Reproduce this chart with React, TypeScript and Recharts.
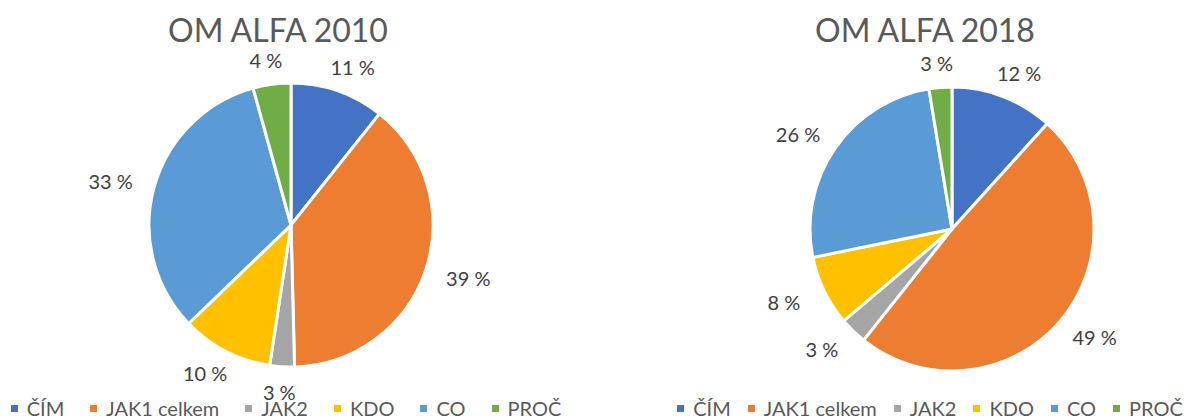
import React from 'react';
import { PieChart, Pie, Cell, Legend } from 'recharts';

const categories = ['ČÍM', 'JAK1 celkem', 'JAK2', 'KDO', 'CO', 'PROČ'];
const values2010 = [10.7, 38.9, 2.8, 10.4, 32.9, 4.3];
const values2018 = [11.7, 49.0, 3.1, 8.0, 25.6, 2.6];
const titles = ['OM ALFA 2010', 'OM ALFA 2018'];
const colors = ['#4472C4', '#ED7D31', '#A5A5A5', '#FFC000', '#5B9BD5', '#70AD47'];

const FONT = 'Lato, "Open Sans", sans-serif';
const RADIAN = Math.PI / 180;

const makeData = (vals: number[]) => categories.map((name, i) => ({ name, value: vals[i] }));

const renderLabel = (props: any) => {
  const { cx, cy, midAngle, outerRadius, value } = props;
  const rx = outerRadius + 45;
  const ry = outerRadius + 25;
  const x = cx + rx * Math.cos(-midAngle * RADIAN);
  const y = cy + ry * Math.sin(-midAngle * RADIAN);
  return (
    <text x={x} y={y} fill="#404040" fontSize={20} fontFamily={FONT} textAnchor="middle" dominantBaseline="central">
      {`${Math.round(value)} %`}
    </text>
  );
};

const makeLegend = (gap: number) => () => (
  <div style={{ display: 'flex', justifyContent: 'center', alignItems: 'center', fontFamily: FONT, fontSize: 20, lineHeight: '22px', color: '#595959', whiteSpace: 'nowrap' }}>
    {categories.map((c, i) => (
      <div key={c} style={{ display: 'flex', alignItems: 'center', marginRight: i < categories.length - 1 ? gap : 0 }}>
        <div style={{ width: 7, height: 7, background: colors[i], marginRight: 9 }} />
        <span>{c}</span>
      </div>
    ))}
  </div>
);

const OnePie = ({ vals, title, left, width, cx, cy, titleX, legendWidth, gap }: any) => {
  const LegendContent = makeLegend(gap);
  return (
    <div style={{ position: 'absolute', left, top: 0, width, height: 418 }}>
      <div style={{ position: 'absolute', left: titleX - 150, top: 13, width: 300, textAlign: 'center', fontFamily: FONT, fontSize: 32, color: '#595959', lineHeight: '34px' }}>
        {title}
      </div>
      <PieChart width={width} height={418} margin={{ top: 0, right: 0, bottom: 0, left: 0 }} style={{ overflow: 'visible' }}>
        <Pie
          data={makeData(vals)}
          dataKey="value"
          nameKey="name"
          cx={cx}
          cy={cy}
          outerRadius={142}
          startAngle={90}
          endAngle={-270}
          stroke="#FFFFFF"
          strokeWidth={3}
          label={renderLabel}
          labelLine={false}
          isAnimationActive={false}
        >
          {vals.map((_: number, i: number) => (
            <Cell key={i} fill={colors[i]} />
          ))}
        </Pie>
        <Legend content={<LegendContent />} verticalAlign="bottom" align="center" wrapperStyle={{ bottom: -1, left: 0, width: legendWidth }} />
      </PieChart>
    </div>
  );
};

export default function App() {
  return (
    <div style={{ position: 'absolute', left: 0, top: 0, width: 1187, height: 418, background: '#FFFFFF', overflow: 'hidden' }}>
      <OnePie vals={values2010} title={titles[0]} left={0} width={572} cx={291} cy={225} titleX={278} legendWidth={572} gap={26} />
      <OnePie vals={values2018} title={titles[1]} left={665} width={522} cx={287} cy={229} titleX={260} legendWidth={530} gap={17} />
    </div>
  );
}
